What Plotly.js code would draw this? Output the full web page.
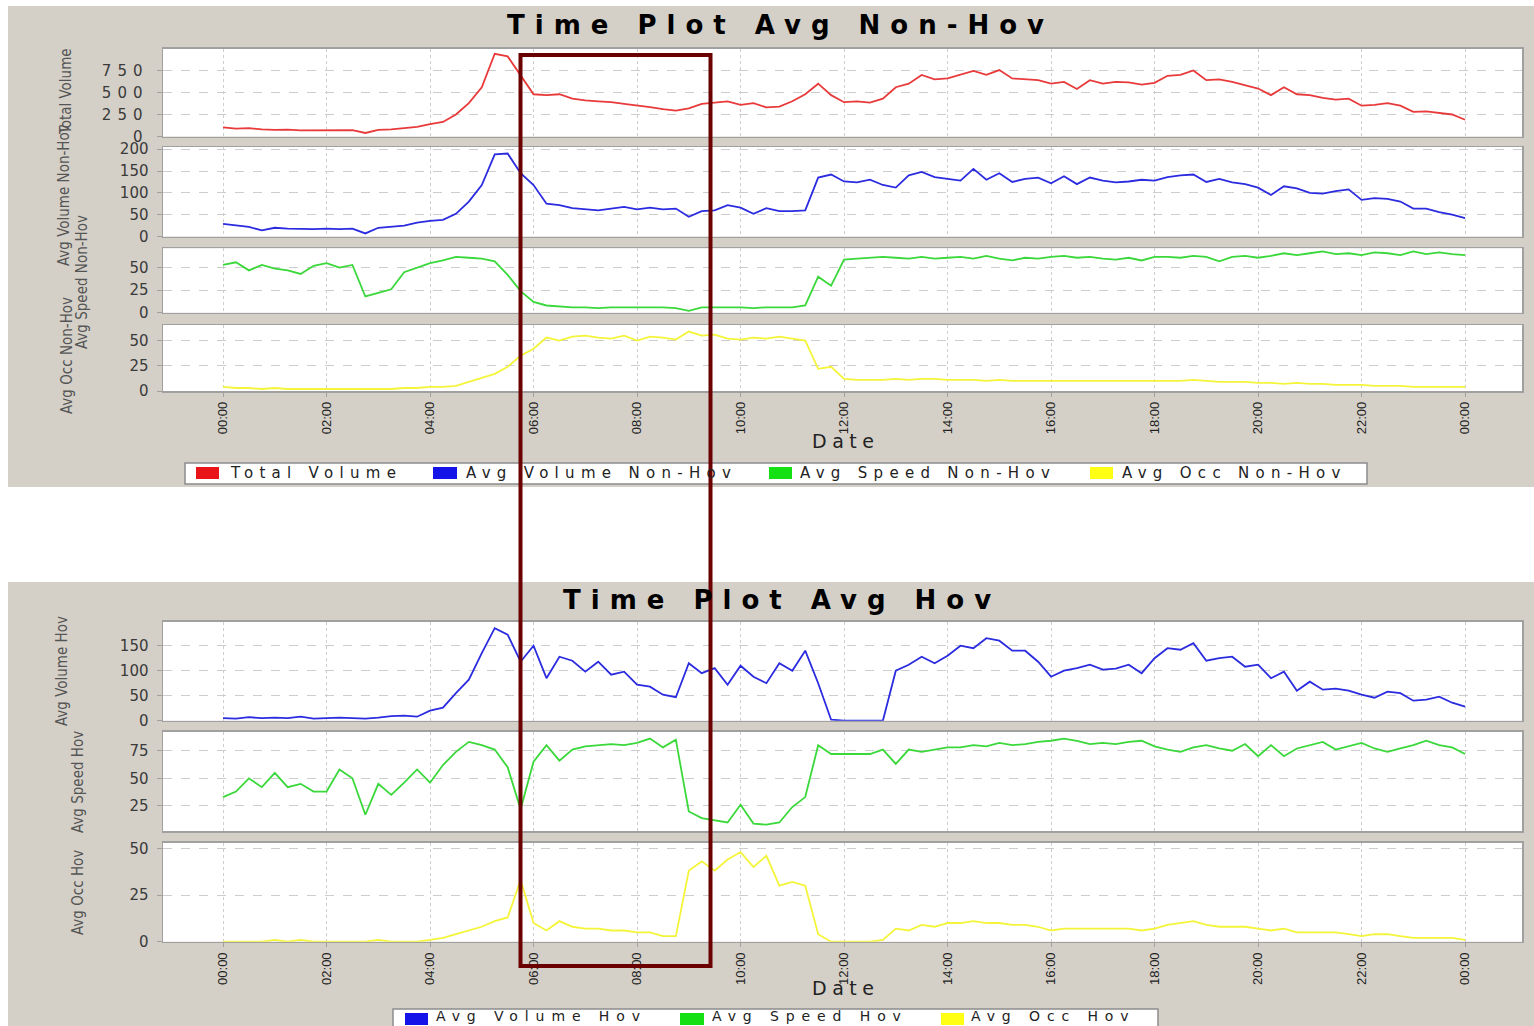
<!DOCTYPE html>
<html><head><meta charset="utf-8">
<script src="https://cdn.plot.ly/plotly-3.0.1.min.js"></script>
<style>
html,body{margin:0;padding:0;background:#fff;}
#chart{width:1534px;height:1026px;}
.ytick text{letter-spacing:6px;}
</style></head><body><div id="chart"></div>
<script>
// ---- data (15-minute samples, 00:00 .. 24:00) ----
const hours = [];
for (let i = 0; i <= 96; i++) hours.push(i * 0.25);

const tickHours = [0,2,4,6,8,10,12,14,16,18,20,22,24];
const tickLabels = ["00:00","02:00","04:00","06:00","08:00","10:00","12:00","14:00","16:00","18:00","20:00","22:00","00:00"];

const totalVolume = [
 104,90,95,80,75,78,70,72,68,70,72,40,
 75,80,95,110,140,165,250,380,560,940,910,690,
 480,470,480,430,410,400,390,370,355,335,310,295,
 320,370,385,400,360,380,330,340,400,480,600,470,
 390,400,385,430,560,600,700,650,660,700,745,700,
 755,660,650,640,600,620,540,640,600,620,615,590,
 610,690,700,750,640,650,620,580,545,470,560,480,
 470,440,420,430,350,360,380,350,280,285,270,250,
 190];
const avgVolumeNonHov = [
 29,26,22,14,20,18,17,17,18,17,18,7,
 20,22,25,32,36,38,52,80,118,188,190,145,
 118,75,72,65,62,60,64,68,62,66,62,64,
 45,58,60,72,66,52,65,58,58,60,135,142,
 126,124,130,118,112,140,148,136,132,128,155,130,
 145,125,132,135,122,138,120,135,128,124,126,130,
 128,136,140,142,125,132,124,120,112,95,115,110,
 100,98,104,108,84,88,86,80,64,64,56,50,
 42];
const avgSpeedNonHov = [
 53,56,47,53,49,47,43,52,55,50,53,18,
 22,26,45,50,55,58,62,61,60,57,42,24,
 12,8,7,6,6,5,6,6,6,6,6,5,
 2,6,6,6,6,5,6,6,6,8,40,30,
 59,60,61,62,61,60,62,60,61,62,60,63,
 60,58,61,60,62,63,61,62,60,59,61,58,
 62,62,61,63,62,57,62,63,61,63,66,64,
 66,68,65,66,64,67,66,64,68,65,67,65,
 64];
const avgOccNonHov = [
 4,3,3,2,3,2,2,2,2,2,2,2,
 2,2,3,3,4,4,5,9,13,17,24,35,
 42,53,50,54,55,53,52,55,50,54,53,51,
 59,55,56,52,51,53,52,54,52,50,22,24,
 12,11,11,11,12,11,12,12,11,11,11,10,
 11,10,10,10,10,10,10,10,10,10,10,10,
 10,10,10,11,10,9,9,9,8,8,7,8,
 7,7,6,6,6,5,5,5,4,4,4,4,
 4];
const avgVolumeHov = [
 5,4,7,5,6,5,8,4,5,6,5,4,
 6,9,10,8,20,26,55,82,135,185,172,118,
 150,85,128,120,98,118,92,98,72,68,52,47,
 115,95,105,72,110,88,75,115,100,140,75,2,
 0,0,0,0,100,112,128,115,130,150,145,165,
 160,140,140,118,88,100,105,112,102,104,112,95,
 125,145,142,155,120,125,128,108,112,85,98,60,
 78,62,64,60,52,46,58,55,40,42,48,36,
 28];
const avgSpeedHov = [
 33,38,50,42,55,42,45,38,38,58,50,17,
 45,35,46,58,46,62,74,83,80,76,60,22,
 65,80,66,76,79,80,81,80,82,86,78,85,
 20,14,12,10,26,9,8,10,24,33,80,72,
 72,72,72,76,63,76,74,76,78,78,80,79,
 82,80,81,83,84,86,84,81,82,81,83,84,
 79,76,74,78,80,77,75,81,70,80,70,77,
 80,83,76,79,82,77,74,77,80,84,80,78,
 72];
const avgOccHov = [
 0,0,0,0,1,0,1,0,0,0,0,0,
 1,0,0,0,1,2,4,6,8,11,13,33,
 10,6,11,8,7,7,6,6,5,5,3,3,
 38,43,38,44,48,40,46,30,32,30,4,0,
 0,0,0,1,7,6,9,8,10,10,11,10,
 10,9,9,8,6,7,7,7,7,7,7,6,
 7,9,10,11,9,8,8,8,7,6,7,5,
 5,5,5,4,3,4,4,3,2,2,2,2,
 1];

const seriesNames = ["Total Volume","Avg Volume Non-Hov","Avg Speed Non-Hov","Avg Occ Non-Hov","Avg Volume Hov","Avg Speed Hov","Avg Occ Hov"];
const seriesData = [totalVolume, avgVolumeNonHov, avgSpeedNonHov, avgOccNonHov, avgVolumeHov, avgSpeedHov, avgOccHov];

// ---- layout helpers ----
const W = 1534, H = 1026;
const fx = p => p / W;
const fy = p => 1 - p / H;

const lineColors = ["#e83a3a","#2b2be0","#3ad83a","#f4f43a","#2b2be0","#3ad83a","#f4f43a"];
const swatch = {red:"#e8141a", blue:"#1414e8", green:"#14e014", yellow:"#ffff14"};

const plotL = 163, plotR = 1522;
const xRange = [-1.16, 25.1];
const rowsPx = [[48.5,136.5],[147,236.5],[248.3,312.7],[325,391],[621.7,720.7],[731.7,831],[842.7,941.7]];
const yRanges = [[0,1000],[0,205],[0,71.5],[0,65.5],[0,198],[2.3,92.2],[0,53]];
const yTicks = [[0,250,500,750],[0,50,100,150,200],[0,25,50],[0,25,50],[0,50,100,150],[25,50,75],[0,25,50]];
const bottomRows = [3,6];

const gridCol = "#cdcdcd", borderCol = "#a0a0a0";

const traces = [];
const layout = {
  width: W, height: H,
  margin: {l:0, r:0, t:0, b:0},
  paper_bgcolor: "#d4d0c8",
  plot_bgcolor: "#ffffff",
  showlegend: false,
  shapes: [], annotations: []
};

for (let i = 0; i < 7; i++) {
  const sfx = i === 0 ? "" : String(i + 1);
  traces.push({
    x: hours, y: seriesData[i], name: seriesNames[i],
    xaxis: "x" + sfx, yaxis: "y" + sfx,
    type: "scatter", mode: "lines",
    line: {color: lineColors[i], width: 1.8},
    hoverinfo: "x+y"
  });
  const isBottom = bottomRows.includes(i);
  layout["xaxis" + sfx] = {
    domain: [fx(plotL), fx(plotR)], range: xRange, anchor: "y" + sfx,
    tickvals: tickHours, ticktext: tickLabels,
    showticklabels: isBottom, tickangle: -90,
    tickfont: {family: "Liberation Sans, Arial, sans-serif", size: 13, color: "#222"},
    ticks: isBottom ? "outside" : "", ticklen: 4, tickcolor: borderCol,
    showgrid: true, gridcolor: gridCol, griddash: "dot", gridwidth: 1,
    showline: true, mirror: true, linecolor: borderCol, linewidth: 1.5,
    zeroline: false, fixedrange: true
  };
  layout["yaxis" + sfx] = {
    domain: [fy(rowsPx[i][1]), fy(rowsPx[i][0])], range: yRanges[i], anchor: "x" + sfx,
    tickvals: yTicks[i], ticktext: yTicks[i].map(String),
    tickfont: {family: "DejaVu Sans, sans-serif", size: 15, color: "#3a3a3a"},
    ticks: "outside", ticklen: 5, tickcolor: borderCol, ticklabelstandoff: 5,
    showgrid: true, gridcolor: gridCol, griddash: "dash", gridwidth: 1,
    showline: true, mirror: true, linecolor: borderCol, linewidth: 1.5,
    zeroline: false, fixedrange: true
  };
}

// white page areas around the two grey panels
const S = layout.shapes;
const rectPx = (x0,y0,x1,y1,opt) => Object.assign({type:"rect", xref:"paper", yref:"paper",
  x0: fx(x0), x1: fx(x1), y0: fy(y1), y1: fy(y0)}, opt);
S.push(rectPx(0,0,8,H,{fillcolor:"#fff", line:{width:0}, layer:"below"}));
S.push(rectPx(0,0,W,6,{fillcolor:"#fff", line:{width:0}, layer:"below"}));
S.push(rectPx(0,487,W,582,{fillcolor:"#fff", line:{width:0}, layer:"below"}));

// legend boxes
S.push(rectPx(185,463,1367,484,{fillcolor:"#fff", line:{color:"#8c8c8c", width:1.5}, layer:"above"}));
S.push(rectPx(393,1009,1158,1032,{fillcolor:"#fff", line:{color:"#8c8c8c", width:1.5}, layer:"above"}));
const legendTop = [
  {sx:[196,219], tx:230, c:swatch.red, t:"Total Volume"},
  {sx:[433,457], tx:466, c:swatch.blue, t:"Avg Volume Non-Hov"},
  {sx:[769,792], tx:800, c:swatch.green, t:"Avg Speed Non-Hov"},
  {sx:[1090,1113], tx:1122, c:swatch.yellow, t:"Avg Occ Non-Hov"}
];
const legendBot = [
  {sx:[405,428], tx:436, c:swatch.blue, t:"Avg Volume Hov"},
  {sx:[680,704], tx:712, c:swatch.green, t:"Avg Speed Hov"},
  {sx:[941,964], tx:971, c:swatch.yellow, t:"Avg Occ Hov"}
];

const A = layout.annotations;
const spacing = [];
function addAnn(a, ls) { A.push(Object.assign({xref:"paper", yref:"paper", showarrow:false}, a)); spacing.push(ls || 0); }

addAnn({text:"Time Plot Avg Non-Hov", x:fx(780), y:fy(25), xanchor:"center", yanchor:"middle",
  font:{family:"DejaVu Sans, sans-serif", size:26, color:"#000", weight:"bold"}}, 10);
addAnn({text:"Time Plot Avg Hov", x:fx(781.5), y:fy(600), xanchor:"center", yanchor:"middle",
  font:{family:"DejaVu Sans, sans-serif", size:26, color:"#000", weight:"bold"}}, 10);
addAnn({text:"Date", x:fx(845), y:fy(441), xanchor:"center", yanchor:"middle",
  font:{family:"DejaVu Sans, sans-serif", size:19, color:"#222"}}, 5.5);
addAnn({text:"Date", x:fx(845), y:fy(988), xanchor:"center", yanchor:"middle",
  font:{family:"DejaVu Sans, sans-serif", size:19, color:"#222"}}, 5.5);

function addLegend(items, cy, ty, sz) {
  items.forEach(it => {
    S.push(rectPx(it.sx[0], cy-6, it.sx[1], cy+6, {fillcolor: it.c, line:{width:0}, layer:"above"}));
    addAnn({text: it.t, x: fx(it.tx - 2), y: fy(ty), xanchor:"left", yanchor:"middle", align:"left",
      font:{family:"DejaVu Sans, sans-serif", size:sz, color:"#222"}}, sz === 15 ? 6.3 : 6.9);
  });
}
addLegend(legendTop, 473, 473, 15);
addLegend(legendBot, 1019, 1016, 14);

// y-axis titles (rotated)
const yTitles = [
  {t:"Total Volume", x:66, y:92},
  {t:"Avg Volume Non-Hov", x:64, y:195},
  {t:"Avg Speed Non-Hov", x:82, y:282},
  {t:"Avg Occ Non-Hov", x:67, y:356},
  {t:"Avg Volume Hov", x:62, y:671},
  {t:"Avg Speed Hov", x:78, y:782},
  {t:"Avg Occ Hov", x:78, y:893}
];
yTitles.forEach(o => addAnn({text:o.t, x:fx(o.x), y:fy(o.y), xanchor:"center", yanchor:"middle", textangle:-90,
  font:{family:"Liberation Sans Narrow, DejaVu Sans Condensed, Liberation Sans, sans-serif", size:15, color:"#555"}}));

// highlight rectangle
S.push(rectPx(520.5,55,710.5,966,{line:{color:"#6b0000", width:4}, fillcolor:"rgba(0,0,0,0)", layer:"above"}));

Plotly.newPlot("chart", traces, layout, {staticPlot:true, displayModeBar:false}).then(() => {
  document.querySelectorAll("#chart .annotation").forEach(g => {
    const i = +g.getAttribute("data-index");
    const t = g.querySelector("text");
    if (t && spacing[i]) t.style.letterSpacing = spacing[i] + "px";
  });
});
</script></body></html>
